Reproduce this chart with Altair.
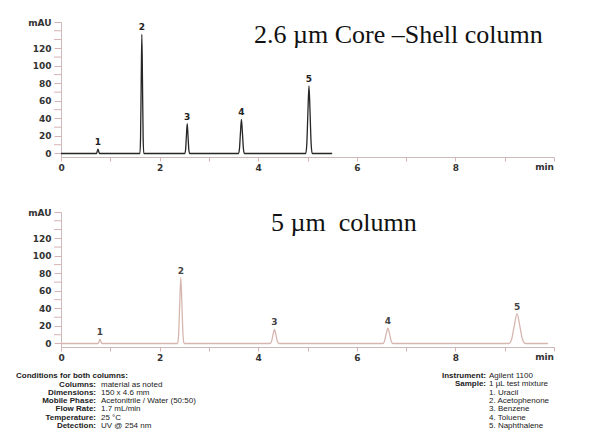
import altair as alt
import pandas as pd

# ---------------- data ----------------
# Top trace: 2.6 um core-shell column (time in min, absorbance in mAU)
core_time = [0.0, 0.714, 0.726, 0.738, 0.75, 0.762, 0.774, 0.786,
             1.601, 1.614, 1.627, 1.64, 1.653, 1.666, 1.679,
             2.512, 2.528, 2.544, 2.56, 2.576, 2.592, 2.608,
             3.60, 3.62, 3.64, 3.66, 3.68, 3.70, 3.72,
             4.964, 4.986, 5.008, 5.03, 5.052, 5.074, 5.096, 5.5]
core_mau = [0, 0, 0.7, 3.0, 5, 3.0, 0.7, 0,
            0, 19, 82, 136, 82, 19, 0,
            0, 4.8, 20.5, 34, 20.5, 4.8, 0,
            0, 5.5, 23.5, 39, 23.5, 5.5, 0,
            0, 10.8, 46.5, 77, 46.5, 10.8, 0, 0]
core_peak_time = [0.75, 1.64, 2.56, 3.66, 5.03]
core_peak_height = [5, 136, 34, 39, 77]

# Bottom trace: 5 um column
fp_time = [0.0, 0.745, 0.76, 0.775, 0.79, 0.805, 0.82, 0.835,
           2.364, 2.386, 2.408, 2.43, 2.452, 2.474, 2.496,
           4.24, 4.27, 4.30, 4.33, 4.36, 4.39, 4.42,
           6.525, 6.56, 6.595, 6.63, 6.665, 6.70, 6.735,
           9.085, 9.14, 9.195, 9.25, 9.305, 9.36, 9.415, 9.88]
fp_mau = [0, 0, 0.7, 3.0, 5, 3.0, 0.7, 0,
          0, 10.5, 45, 75, 45, 10.5, 0,
          0, 2.2, 9.7, 16, 9.7, 2.2, 0,
          0, 2.4, 10.6, 17.5, 10.6, 2.4, 0,
          0, 4.8, 20.5, 34, 20.5, 4.8, 0, 0]
fp_peak_time = [0.79, 2.43, 4.33, 6.63, 9.25]
fp_peak_height = [5, 75, 16, 17.5, 34]

peak_numbers = ["1", "2", "3", "4", "5"]

x_ticks = list(range(0, 11))
y_major_ticks = [0, 20, 40, 60, 80, 100, 120, 150]
y_minor_ticks = [10, 30, 50, 70, 90, 110, 130, 140]

top_title = "2.6 µm Core –Shell column"
bottom_title = "5 µm\u00a0\u00a0column"

cond_heading = "Conditions for both columns:"
cond_labels = ["Columns:", "Dimensions:", "Mobile Phase:", "Flow Rate:",
               "Temperature:", "Detection:"]
cond_values = ["material as noted", "150 x 4.6 mm",
               "Acetonitrile / Water (50:50)", "1.7 mL/min", "25 °C",
               "UV @ 254 nm"]
inst_labels = ["Instrument:", "Sample:"]
inst_values = ["Agilent 1100", "1 µL test mixture", "1. Uracil",
               "2. Acetophenone", "3. Benzene", "4. Toluene",
               "5. Naphthalene"]

# ---------------- styling ----------------
W, H = 493, 135
AXIS_FONT = "DejaVu Sans"
SERIF = "Liberation Serif"
DOMAIN_C = "#c9b9b9"
TICK_C = "#d9b3b3"
LABEL_C = "#333333"

x_scale = alt.Scale(domain=[0, 10], nice=False, zero=False)
y_scale = alt.Scale(domain=[-4, 150], nice=False, zero=False)

x_axis = alt.Axis(values=x_ticks, grid=False, title=None,
                  labelExpr="datum.value % 2 == 0 && datum.value < 10 ? datum.label : ''",
                  tickSize=4, labelPadding=2, labelFont=AXIS_FONT,
                  labelFontSize=9, labelFontWeight="bold", labelColor=LABEL_C,
                  domainColor=DOMAIN_C, tickColor=TICK_C, labelFlush=False,
                  labelOverlap=False)
y_axis = alt.Axis(values=y_major_ticks, grid=False, title=None,
                  labelExpr="datum.value == 150 ? 'mAU' : datum.label",
                  tickSize=7, labelPadding=3, labelFont=AXIS_FONT,
                  labelFontSize=9, labelFontWeight="bold", labelColor=LABEL_C,
                  domainColor=DOMAIN_C, tickColor=TICK_C, labelFlush=False,
                  labelOverlap=False)


def X(field):
    return alt.X(field, type="quantitative", scale=x_scale, axis=x_axis)


def Y(field):
    return alt.Y(field, type="quantitative", scale=y_scale, axis=y_axis)


one = alt.Data(values=[{"k": 1}])


def panel(times, values, ptimes, pheights, color, label_color, title, title_x, title_y):
    trace = pd.DataFrame({"t": times, "mau": values})
    peaks = pd.DataFrame({"t": ptimes, "mau": pheights, "n": peak_numbers})
    minor = pd.DataFrame({"mau": y_minor_ticks})
    line = alt.Chart(trace).mark_line(
        color=color, strokeWidth=1.3, interpolate="monotone"
    ).encode(x=X("t"), y=Y("mau"))
    minor_ticks = alt.Chart(minor).mark_rule(color=TICK_C, strokeWidth=1).encode(
        y=Y("mau"), x=alt.value(-7), x2=alt.value(0),
    )
    labels = alt.Chart(peaks).mark_text(
        font=AXIS_FONT, fontSize=9, fontWeight="bold", color=label_color,
        baseline="bottom", dy=-2
    ).encode(x=X("t"), y=Y("mau"), text="n:N")
    minlab = alt.Chart(pd.DataFrame({"t": [10], "mau": [-4]})).mark_text(
        font=AXIS_FONT, fontSize=9, fontWeight="bold", color=LABEL_C,
        align="right", baseline="top", dy=6
    ).encode(x=X("t"), y=Y("mau"), text=alt.value("min"))
    head = alt.Chart(one).mark_text(
        font=SERIF, fontSize=26, color="#111111", align="left",
        baseline="alphabetic"
    ).encode(x=alt.value(title_x), y=alt.value(title_y), text=alt.value(title))
    return [line, minor_ticks, labels, minlab, head]


top_layers = panel(core_time, core_mau, core_peak_time, core_peak_height,
                   "#262626", "#222222", top_title, 193, 21)
bottom_layers = panel(fp_time, fp_mau, fp_peak_time, fp_peak_height,
                      "#d6b7af", "#444444", bottom_title, 210, 19)


def block(lines, x, y, align, bold):
    return alt.Chart(one).mark_text(
        font="Liberation Sans", fontSize=8, color="#222222", align=align,
        baseline="alphabetic", lineHeight=8.3,
        fontWeight="bold" if bold else "normal"
    ).encode(x=alt.value(x), y=alt.value(y), text=alt.value(lines))


notes = [
    block([cond_heading], -45, 166, "left", True),
    block(cond_labels, 35, 174.5, "right", True),
    block(cond_values, 40, 174.5, "left", False),
    block(inst_labels, 425, 166, "right", True),
    block(inst_values, 428, 166, "left", False),
]

top = alt.layer(*top_layers).properties(width=W, height=H)
bottom = alt.layer(*bottom_layers, *notes).properties(width=W, height=H)

chart = alt.vconcat(top, bottom, spacing=36).properties(
    padding={"left": 8, "top": 10, "right": 5, "bottom": 0}
).configure_view(stroke=None).configure_axis(labelOverlap=False)

chart.save("out.html", embed_options={"renderer": "svg", "actions": False})
